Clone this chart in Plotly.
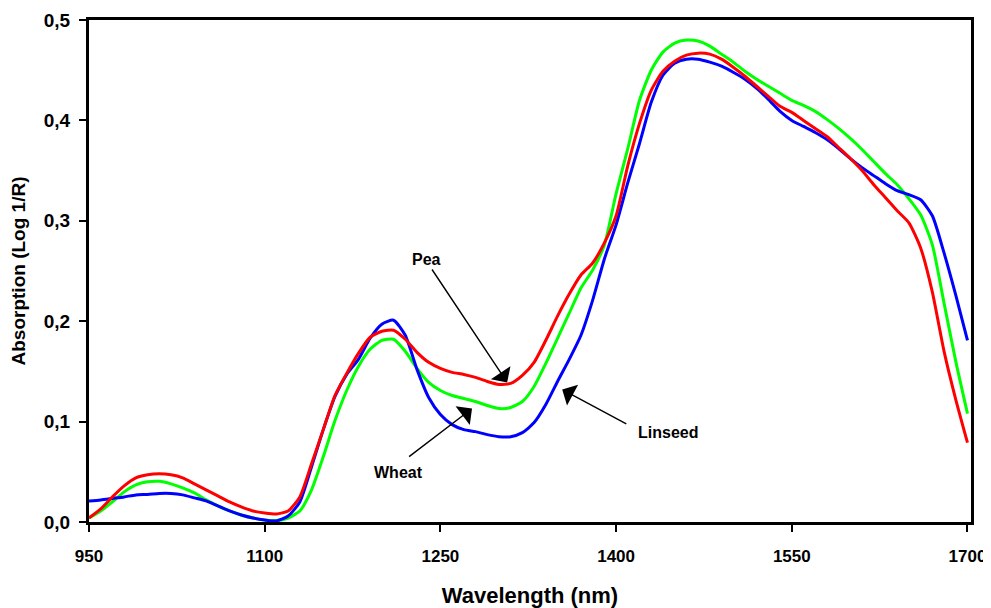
import plotly.graph_objects as go

# wavelength grid (nm)
wavelength = list(range(950, 1701, 10))

linseed = [0.021, 0.022, 0.0235, 0.025, 0.027, 0.0275, 0.0285, 0.0285, 0.027, 0.024,
           0.021, 0.016, 0.011, 0.007, 0.004, 0.002, 0.001, 0.006, 0.020, 0.055,
           0.092, 0.125, 0.147, 0.162, 0.183, 0.197, 0.201, 0.186, 0.152, 0.124,
           0.107, 0.097, 0.092, 0.090, 0.087, 0.085, 0.085, 0.089, 0.099, 0.117,
           0.140, 0.162, 0.186, 0.221, 0.262, 0.296, 0.338, 0.377, 0.418, 0.445,
           0.457, 0.461, 0.461, 0.458, 0.454, 0.448, 0.441, 0.432, 0.421, 0.409,
           0.400, 0.394, 0.388, 0.381, 0.372, 0.362, 0.353, 0.345, 0.337, 0.330,
           0.326, 0.321, 0.305, 0.268, 0.226, 0.181]

wheat = [0.004, 0.011, 0.020, 0.030, 0.037, 0.040, 0.0405, 0.038, 0.034, 0.029,
         0.022, 0.016, 0.011, 0.007, 0.004, 0.002, 0.0015, 0.004, 0.011, 0.032,
         0.065, 0.101, 0.131, 0.155, 0.172, 0.181, 0.182, 0.170, 0.153, 0.139,
         0.131, 0.126, 0.123, 0.120, 0.116, 0.113, 0.114, 0.120, 0.135, 0.158,
         0.183, 0.208, 0.233, 0.251, 0.276, 0.327, 0.372, 0.420, 0.450, 0.468,
         0.477, 0.480, 0.479, 0.474, 0.466, 0.458, 0.449, 0.441, 0.434, 0.427,
         0.420, 0.415, 0.409, 0.401, 0.392, 0.382, 0.371, 0.359, 0.347, 0.336,
         0.322, 0.306, 0.276, 0.218, 0.160, 0.108]

pea = [0.004, 0.013, 0.025, 0.036, 0.044, 0.047, 0.048, 0.047, 0.044, 0.038,
       0.032, 0.026, 0.020, 0.015, 0.011, 0.009, 0.008, 0.011, 0.025, 0.058,
       0.092, 0.126, 0.148, 0.168, 0.184, 0.190, 0.191, 0.182, 0.169, 0.159,
       0.153, 0.149, 0.147, 0.144, 0.140, 0.137, 0.138, 0.146, 0.159, 0.181,
       0.205, 0.227, 0.246, 0.258, 0.278, 0.305, 0.355, 0.397, 0.430, 0.449,
       0.459, 0.465, 0.467, 0.466, 0.461, 0.453, 0.444, 0.434, 0.424, 0.414,
       0.408, 0.400, 0.392, 0.384, 0.373, 0.362, 0.350, 0.336, 0.323, 0.310,
       0.298, 0.273, 0.229, 0.170, 0.122, 0.079]

x_ticks = [950, 1100, 1250, 1400, 1550, 1700]
y_ticks = [0.0, 0.1, 0.2, 0.3, 0.4, 0.5]

# label, label pos, arrow tail, arrow tip
labels = [
    ("Pea", (1238, 0.261), (1242, 0.253), (1307, 0.139)),
    ("Wheat", (1214, 0.049), (1222, 0.064), (1277, 0.113)),
    ("Linseed", (1444, 0.089), (1410, 0.097), (1354, 0.132)),
]

font = "Liberation Sans, Arial, sans-serif"

fig = go.Figure()
for name, ys, col in [("Wheat", wheat, "#00FF00"),
                      ("Linseed", linseed, "#0000FF"),
                      ("Pea", pea, "#FF0000")]:
    fig.add_trace(go.Scatter(x=wavelength, y=ys, name=name, mode="lines",
                             line=dict(color=col, width=3, shape="spline", smoothing=0.6)))

for text, (tx, ty), (ax, ay), (hx, hy) in labels:
    fig.add_annotation(x=hx, y=hy, ax=ax, ay=ay, xref="x", yref="y", axref="x", ayref="y",
                       text="", showarrow=True, arrowhead=1, arrowsize=2.8, arrowwidth=1.4,
                       arrowcolor="black")
    fig.add_annotation(x=tx, y=ty, xref="x", yref="y", text="<b>%s</b>" % text,
                       showarrow=False, font=dict(size=16, color="black", family=font))

# page body has an 8px margin, so the figure is offset by 8px
fig.update_layout(
    width=991, height=600,
    margin=dict(l=81, r=28, t=12, b=86),
    paper_bgcolor="white", plot_bgcolor="white",
    showlegend=False,
    separators=",.",
    font=dict(family=font, color="black"),
)
fig.update_xaxes(
    range=[950, 1703], tickvals=x_ticks, ticks="outside", ticklen=7, tickwidth=2,
    tickcolor="black", showline=True, linewidth=3, linecolor="black", mirror=True,
    showgrid=False, zeroline=False, automargin=False, ticklabeloverflow="allow",
    tickfont=dict(size=17, family=font, weight="bold"), ticklabelstandoff=10,
    title=dict(text="Wavelength (nm)", font=dict(size=22, family=font, weight="bold"),
               standoff=30),
)
fig.update_yaxes(
    range=[0, 0.5], tickvals=y_ticks, tickformat=".1f", ticks="outside", ticklen=7,
    tickwidth=2, tickcolor="black", showline=True, linewidth=3, linecolor="black",
    mirror=True, showgrid=False, zeroline=False, automargin=False,
    ticklabeloverflow="allow",
    tickfont=dict(size=19, family=font, weight="bold"), ticklabelstandoff=5,
    title=dict(text="Absorption (Log 1/R)", font=dict(size=19, family=font, weight="bold"),
               standoff=14),
)

fig.write_html("out.html")
